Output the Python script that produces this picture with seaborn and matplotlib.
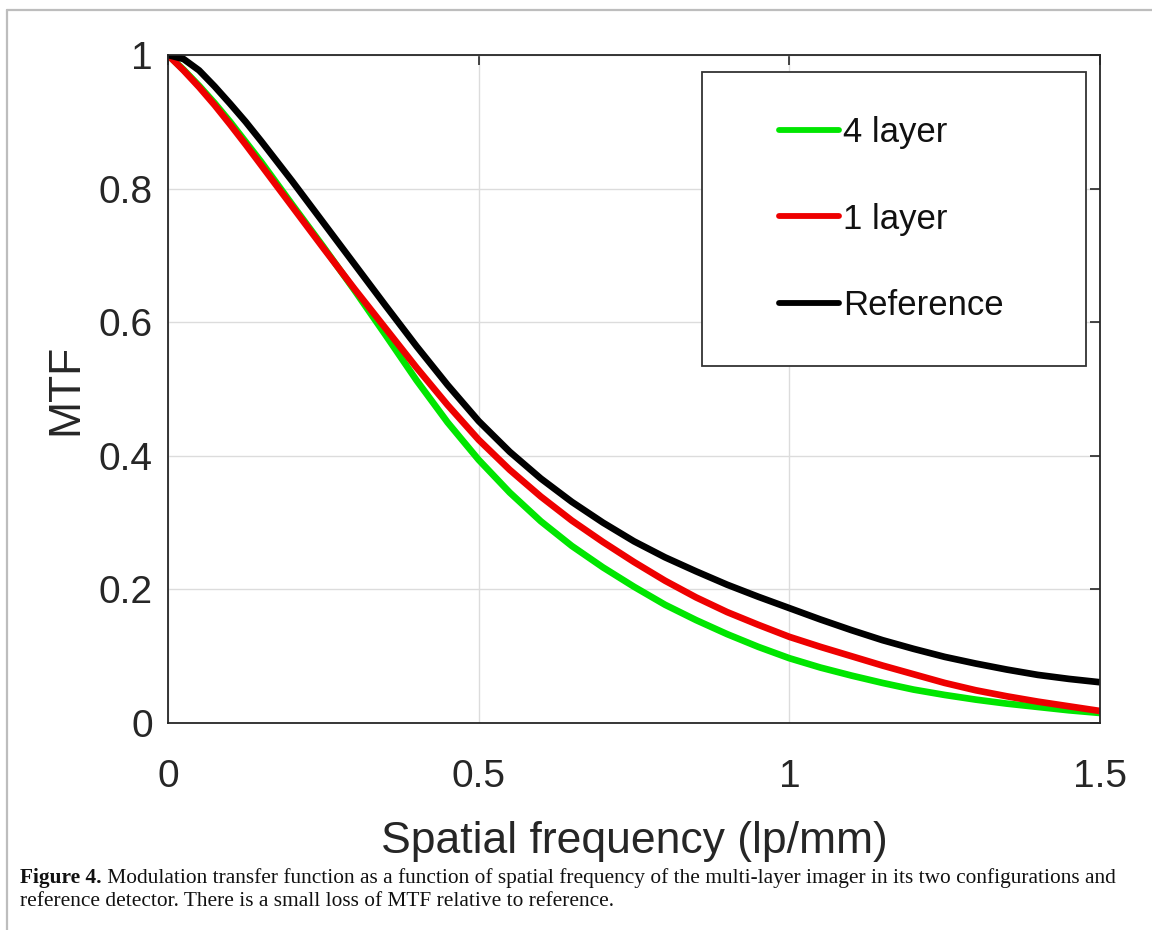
import numpy as np
import pandas as pd
import matplotlib
matplotlib.use("Agg")
import matplotlib.pyplot as plt
from matplotlib.lines import Line2D
import seaborn as sns

# ---- data ----
freq = [0.000, 0.025, 0.050, 0.075, 0.100, 0.125, 0.150, 0.175, 0.200,
        0.25, 0.30, 0.35, 0.40, 0.45, 0.50, 0.55, 0.60, 0.65, 0.70, 0.75,
        0.80, 0.85, 0.90, 0.95, 1.00, 1.05, 1.10, 1.15, 1.20, 1.25,
        1.30, 1.35, 1.40, 1.45, 1.50]
mtf_4layer = [1.000, 0.978, 0.954, 0.928, 0.900, 0.870, 0.840, 0.808, 0.776,
              0.713, 0.648, 0.581, 0.513, 0.450, 0.394, 0.345, 0.302, 0.265, 0.233, 0.204,
              0.177, 0.154, 0.133, 0.114, 0.097, 0.083, 0.071, 0.060, 0.050, 0.042,
              0.035, 0.029, 0.024, 0.019, 0.015]
mtf_1layer = [1.000, 0.977, 0.952, 0.925, 0.896, 0.866, 0.835, 0.804, 0.773,
              0.711, 0.650, 0.591, 0.532, 0.476, 0.424, 0.379, 0.339, 0.303, 0.271, 0.241,
              0.213, 0.188, 0.166, 0.147, 0.129, 0.114, 0.100, 0.086, 0.073, 0.060,
              0.049, 0.040, 0.032, 0.025, 0.018]
mtf_reference = [1.000, 0.994, 0.977, 0.953, 0.927, 0.900, 0.871, 0.841, 0.811,
                 0.749, 0.687, 0.625, 0.564, 0.506, 0.452, 0.406, 0.366, 0.331, 0.300, 0.272,
                 0.248, 0.227, 0.207, 0.189, 0.172, 0.155, 0.139, 0.124, 0.111, 0.099,
                 0.089, 0.080, 0.072, 0.066, 0.061]
series_names = ["4 layer", "1 layer", "Reference"]
series_colors = ["#00e600", "#ee0000", "#000000"]
xtick_vals = [0, 0.5, 1, 1.5]
xtick_labels = ["0", "0.5", "1", "1.5"]
ytick_vals = [0, 0.2, 0.4, 0.6, 0.8, 1.0]
ytick_labels = ["0", "0.2", "0.4", "0.6", "0.8", "1"]
x_label = "Spatial frequency (lp/mm)"
y_label = "MTF"
caption_bold = "Figure 4."
caption_line1 = (" Modulation transfer function as a function of spatial frequency of the "
                 "multi-layer imager in its two configurations and")
caption_line2 = "reference detector. There is a small loss of MTF relative to reference."

df = pd.DataFrame({
    "freq": freq * 3,
    "mtf": mtf_4layer + mtf_1layer + mtf_reference,
    "series": [series_names[0]] * len(freq) + [series_names[1]] * len(freq)
              + [series_names[2]] * len(freq),
})

sns.set_theme(style="white")
plt.rcParams["font.family"] = ["Liberation Sans", "DejaVu Sans"]
TXT = "#262626"

fig = plt.figure(figsize=(11.52, 9.30), dpi=100)
ax = fig.add_axes([168 / 1152, 1 - 723 / 930, (1100 - 168) / 1152, (723 - 55) / 930])

sns.lineplot(data=df, x="freq", y="mtf", hue="series", hue_order=series_names,
             palette=dict(zip(series_names, series_colors)), linewidth=4.8,
             sort=False, estimator=None, legend=False, ax=ax)
for ln in ax.get_lines():
    ln.set_solid_joinstyle("round")
    ln.set_solid_capstyle("butt")

ax.set_xlim(0, 1.5)
ax.set_ylim(0, 1)
ax.set_xticks(xtick_vals)
ax.set_xticklabels(xtick_labels)
ax.set_yticks(ytick_vals)
ax.set_yticklabels(ytick_labels)
ax.grid(True, color="#dcdcdc", linewidth=1.0)
ax.set_axisbelow(True)
for sp in ax.spines.values():
    sp.set_visible(True)
    sp.set_color(TXT)
    sp.set_linewidth(1.3)
ax.tick_params(axis="both", direction="in", length=7, width=1.2, color=TXT,
               labelsize=28, labelcolor=TXT, top=True, right=True)
ax.tick_params(axis="x", pad=26)
ax.tick_params(axis="y", pad=11)
ax.set_xlabel(x_label, fontsize=32, color=TXT)
ax.set_ylabel(y_label, fontsize=32, color=TXT)
ax.xaxis.set_label_coords(0.5, -0.146)
ax.yaxis.set_label_coords(-0.088, 0.5)

# legend: frame drawn as a box, entries centered in it
handles = [Line2D([], [], color=c, linewidth=4.2) for c in series_colors]
leg = fig.legend(handles, series_names, loc="center", frameon=False,
                 bbox_to_anchor=(891 / 1152, 1 - 219 / 930),
                 fontsize=25, handlelength=1.75, handletextpad=0.1,
                 labelspacing=1.55)
for t in leg.get_texts():
    t.set_color("#111111")
box = dict(xy=(702 / 1152, 1 - 366 / 930), width=(1086 - 702) / 1152,
           height=(366 - 72) / 930, transform=fig.transFigure)
fig.add_artist(plt.Rectangle(**box, fill=True, facecolor="white",
                             edgecolor="none", zorder=1.5))
fig.add_artist(plt.Rectangle(**box, fill=False, edgecolor="#333333",
                             linewidth=1.3, zorder=5))
leg.set_zorder(6)

# page border lines
fig.add_artist(Line2D([7 / 1152, 1.0], [1 - 10 / 930, 1 - 10 / 930],
                      transform=fig.transFigure, color="#bdbdbd", linewidth=1.6))
fig.add_artist(Line2D([7 / 1152, 7 / 1152], [0, 1 - 10 / 930],
                      transform=fig.transFigure, color="#bdbdbd", linewidth=1.6))

# caption
serif = ["Liberation Serif", "DejaVu Serif"]
cap_size = 15.4
y1 = 1 - 883 / 930
y2 = 1 - 906 / 930
tb = fig.text(20 / 1152, y1, caption_bold, fontsize=cap_size,
              fontweight="bold", family=serif, color="#111111", va="baseline")
fig.canvas.draw()
bb = tb.get_window_extent()
fig.text(bb.x1 / 1152, y1, caption_line1, fontsize=cap_size,
         family=serif, color="#111111", va="baseline")
fig.text(20 / 1152, y2, caption_line2, fontsize=cap_size,
         family=serif, color="#111111", va="baseline")

fig.savefig("out.png", dpi=100, facecolor="white")
